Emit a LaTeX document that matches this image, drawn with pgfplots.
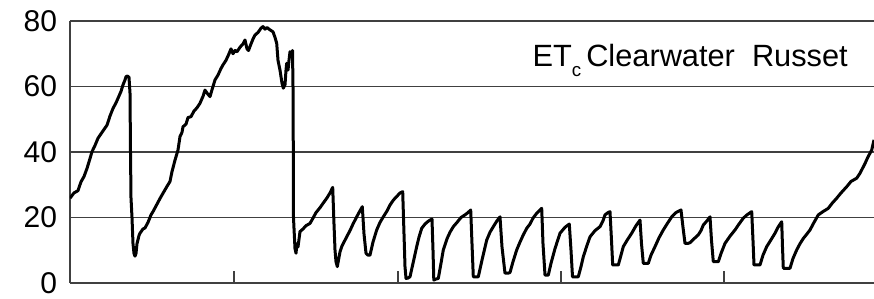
\documentclass[border=0pt]{standalone}
\usepackage{fontspec}
\setmainfont{Liberation Sans}
\usepackage{pgfplots}
\pgfplotsset{compat=1.18}
\begin{document}
\begin{tikzpicture}
\begin{axis}[
 at={(0pt,0pt)}, anchor=south west,
 width=321.6pt, height=104.8pt, scale only axis,
 xmin=70, xmax=874, ymin=0, ymax=80,
 axis x line=bottom, axis y line=left,
 axis line style={-, draw=black!75, line width=0.5pt},
 xtick={234,398,561,724}, xticklabels={},
 ytick={0,20,40,60,80},
 ymajorgrids, major grid style={draw=black!75, line width=0.5pt},
 tick align=inside, major tick length=4.8pt,
 x tick style={draw=black!75, line width=0.5pt},
 y tick style={draw=none},
 /pgf/number format/assume math mode=true,
 yticklabel style={font=\fontsize{12}{14}\selectfont, inner sep=0pt, xshift=-5pt},
]
\addplot[black, line width=1.2pt, line join=round, mark=none] coordinates {
(70,25.9) (74,27.5) (78,28.2) (81,30.9) (84,32.5) (87,35) (90,38) (92,40.1) (95,42) (98,44.2) (102,46) (107,48.2) (110,51) (113,53.3) (116,55) (118,56.4) (121,58.5) (123,60.5) (125,62) (126,63) (127.5,63.2) (129,62.8) (130,58)
(130.5,40) (131,26) (132,20) (133,12) (134,9) (135,8.2) (136,9) (137,12) (139,14.5) (140,15.2) (143,16.5) (145,16.8) (148,18.5) (151,20.8) (153,21.8) (156,23.5) (160,25.8) (163,27.4) (167,29.5) (170,31) (172,34) (175,37.5) (178,40.6) (180,44.7) (182,46) (183,47.7) (186,48.5) (188,50.5) (191,50.8) (194,52.5) (197,53.5) (200,54.9) (203,57) (205,58.9) (207,58) (210,56.9) (212,59) (215,62) (218,63.5) (221,65.5) (223,66.6) (226,68) (229,70) (231,71.5) (233,70) (235,71) (237,70.6) (240,72) (243,73) (245,74.2) (247,71.5) (248.5,71) (251,73) (253,74.5) (255,75.7) (258,76.5) (261,77.8) (263,78.3) (265,77.5) (267,78) (270,77.3) (273,76.7) (275,75) (276.7,73.2) (278,68) (280,65) (282,61) (283.3,59.5) (285,60.5) (286,65) (286.7,67.1) (288,65) (289,68) (290,70.6) (291.5,70) (292.5,71) (293,60) (293.3,40) (293.5,20) (294,16.7) (295,10.5) (296,9.1) (297,12) (298,11) (300,15.7) (303,16.5) (306,17.5) (310,18.2) (313,19.8) (316,21.5) (320,23) (323,24.3) (327,26) (330,27.5) (332.7,29.2) (334,18) (335,10.1) (336,6.5) (337.3,5) (338.5,7) (340,9.5) (341.7,11.1) (344,12.5) (346.7,14.1) (350,16) (353,18) (356.7,20.2) (359,21.5) (362.3,23.3) (364,15) (366,9.1) (368,8.5) (370,8.5) (373,12.5) (376.7,16.2) (380,18.5) (383.3,20.2) (387,22) (390,23.8) (393.3,25.3) (397,26.5) (400,27.5) (402.7,27.9) (404,15) (405,5) (406,1.4) (408,1.5) (410,1.9) (413,6) (416.7,11.1) (419,14) (421.7,16.7) (425,18) (428,18.8) (430,19.2) (432,19.5) (433,10) (433.8,0.9) (436,1.2) (438.3,1.4) (441,6) (443.3,10.1) (447,13.5) (450,15.5) (453.3,17.2) (457,18.5) (461,20) (465,20.8) (468,21.5) (470.7,22.3) (472,12) (473.3,1.9) (476,1.9) (478.3,1.9) (482,7) (486.7,13.1) (490,15.5) (493.3,17.2) (497,19) (500,20.2) (502,11) (505,3) (508,3) (510,3.2) (513,6.5) (516.7,10.1) (520,12.5) (523,14.5) (526.7,16.7) (530,18) (533,19.8) (536.7,21.3) (539,22) (541.7,22.8) (543,12) (545,2.4) (548.3,2.4) (551,6) (555,10.5) (560,15.2) (565,17) (569.3,18) (571,10) (572.5,1.9) (576,1.9) (578.3,1.9) (581,5) (583.3,8) (587,11.5) (590,14.1) (595,16) (600,17.2) (603,19) (605,20.8) (608,21.5) (610,21.8) (611.5,13) (612.7,5.5) (616,5.5) (618.3,5.5) (621,8.5) (623.3,11.1) (627,13) (631.7,15.2) (636,17.5) (640,19.2) (641.5,12) (643.3,6) (646,6) (648.3,6) (651,8.5) (655,11.1) (659,13.8) (663.3,16.2) (667,18) (671.7,20.2) (676,21.5) (679,22) (681,22.3) (683,17) (685,12.1) (688,12.1) (690,12.3) (694,13.5) (698.3,14.7) (701,16) (703.3,17.7) (707,19) (710,20.2) (711.5,13) (713.3,6.5) (716,6.5) (718.3,6.5) (721,9) (725,12.1) (730,14.3) (735,16.2) (739,18) (743.3,19.8) (747,20.8) (751.7,21.8) (753,13) (754,5.5) (757,5.5) (760,5.5) (763,8.5) (766.7,11.1) (771,13.2) (775,15.2) (778,17) (781.7,18.7) (782.5,11) (783.3,4.5) (787,4.5) (790,4.5) (793,7.5) (796.7,10.1) (800,12) (803.3,13.6) (807,15) (810,16.2) (814,18.5) (818.3,20.8) (823,21.8) (828.3,22.8) (832,24.3) (836.7,25.9) (841,27.5) (846.7,29.4) (851,31) (856.7,32) (860,33.5) (865,36.5) (868,38.5) (871.7,40.6) (874,43.7)
};
\node[anchor=base west, inner sep=0pt, font=\fontsize{12.3}{14}\selectfont] at (axis cs:532,66) {ET\raisebox{-4pt}{\fontsize{7.5}{8}\selectfont c}\,Clearwater\ \ Russet};
\end{axis}
\pgfresetboundingbox
\useasboundingbox (-28pt,-6.4pt) rectangle (321.6pt,113.2pt);
\end{tikzpicture}
\end{document}
